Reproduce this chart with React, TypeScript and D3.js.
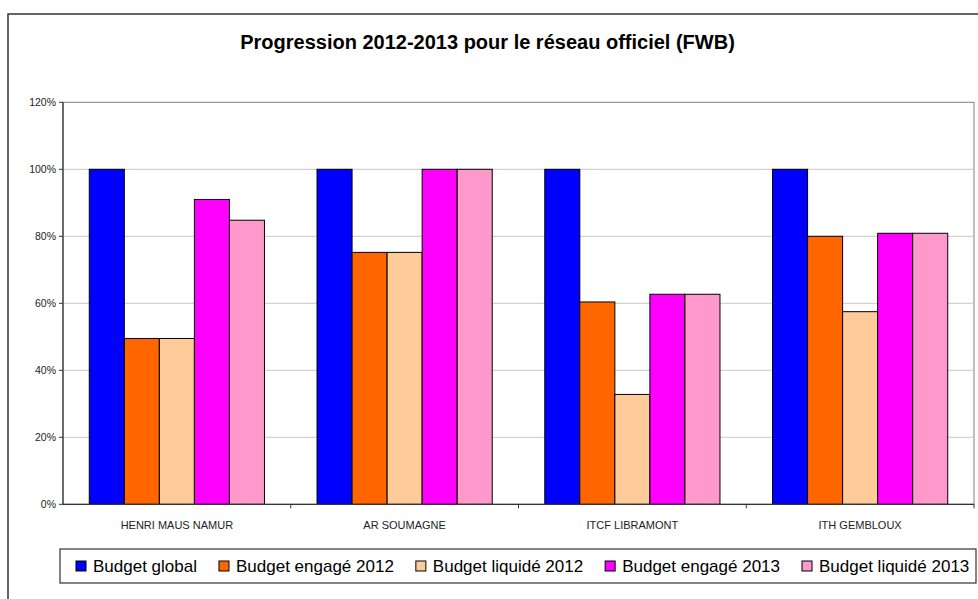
import React from "react";
import * as d3 from "d3";

const categories = ["HENRI MAUS NAMUR", "AR SOUMAGNE", "ITCF LIBRAMONT", "ITH GEMBLOUX"];
const seriesNames = [
  "Budget global",
  "Budget engagé 2012",
  "Budget liquidé 2012",
  "Budget engagé 2013",
  "Budget liquidé 2013",
];
const seriesColors = ["#0000FF", "#FF6600", "#FFCC99", "#FF00FF", "#FF99CC"];
const budgetGlobal = [1.0, 1.0, 1.0, 1.0];
const engage2012 = [0.495, 0.752, 0.604, 0.80];
const liquide2012 = [0.495, 0.752, 0.328, 0.575];
const engage2013 = [0.91, 1.0, 0.627, 0.809];
const liquide2013 = [0.848, 1.0, 0.627, 0.809];
const seriesValues = [budgetGlobal, engage2012, liquide2012, engage2013, liquide2013];
const yTicks = [0, 0.2, 0.4, 0.6, 0.8, 1.0, 1.2];

const W = 978;
const H = 599;
const FONT = "'Liberation Sans', Arial, sans-serif";

function measure(text: string, size: number, weight = "normal"): number {
  if (typeof document === "undefined") return text.length * size * 0.55;
  const c = document.createElement("canvas");
  const ctx = c.getContext("2d");
  if (!ctx) return text.length * size * 0.55;
  ctx.font = `${weight} ${size}px ${FONT}`;
  return ctx.measureText(text).width;
}

export default function App() {
  const left = 63;
  const right = 974;
  const top = 102.3;
  const bottom = 504.3;

  const x = d3.scaleBand<string>().domain(categories).range([left, right]).paddingInner(0).paddingOuter(0);
  const bw = x.bandwidth();
  const barW = bw / 6.5;
  const groupOffset = 0.75 * barW;
  const y = d3.scaleLinear().domain([0, 1.2]).range([bottom, top]);
  const fmt = d3.format(".0%");

  // legend layout
  const legendFont = 17;
  const markerSize = 10;
  const legendItems: { name: string; color: string; mx: number; tx: number }[] = [];
  let cx = 76;
  seriesNames.forEach((name, i) => {
    const tw = measure(name, legendFont);
    legendItems.push({ name, color: seriesColors[i], mx: cx, tx: cx + 17 });
    cx = cx + 17 + tw + 22;
  });

  return (
    <svg width={W} height={H} style={{ position: "absolute", left: 0, top: 0, background: "#fff" }} fontFamily={FONT}>
      <rect x={0} y={0} width={W} height={H} fill="#fff" />
      {/* outer chart border */}
      <rect x={8} y={14} width={W + 20} height={H + 20} fill="none" stroke="#333" strokeWidth={1.5} />

      <text x={487.5} y={49} textAnchor="middle" fontSize={20} fontWeight="bold" fill="#000">
        Progression 2012-2013 pour le réseau officiel (FWB)
      </text>

      {/* plot area */}
      <rect x={left} y={top} width={right - left} height={bottom - top} fill="#fff" stroke="#808080" strokeWidth={1} />
      {yTicks.filter((t) => t > 0 && t < 1.2).map((t) => (
        <line key={"g" + t} x1={left} x2={right} y1={y(t)} y2={y(t)} stroke="#c8c8c8" strokeWidth={1} />
      ))}

      {/* bars */}
      {categories.map((c, ci) => (
        <g key={c}>
          {seriesValues.map((vals, si) => {
            const bx = (x(c) as number) + groupOffset + si * barW;
            return (
              <rect
                key={si}
                x={bx}
                y={y(vals[ci])}
                width={barW}
                height={y(0) - y(vals[ci])}
                fill={seriesColors[si]}
                stroke="#000"
                strokeWidth={1}
              />
            );
          })}
        </g>
      ))}

      {/* axes */}
      <line x1={left} x2={left} y1={top} y2={bottom} stroke="#333" strokeWidth={1.2} />
      <line x1={left} x2={right} y1={bottom} y2={bottom} stroke="#333" strokeWidth={1.2} />
      {yTicks.map((t) => (
        <g key={"t" + t}>
          <line x1={left - 4} x2={left} y1={y(t)} y2={y(t)} stroke="#333" strokeWidth={1} />
          <text x={56} y={y(t) + 3.8} textAnchor="end" fontSize={10.5} fill="#222">
            {fmt(t)}
          </text>
        </g>
      ))}
      {categories.map((c, i) => (
        <g key={"x" + c}>
          {i > 0 && (
            <line x1={x(c) as number} x2={x(c) as number} y1={bottom} y2={bottom + 4} stroke="#333" strokeWidth={1} />
          )}
          <text x={(x(c) as number) + bw / 2} y={529} textAnchor="middle" fontSize={11} fill="#222">
            {c}
          </text>
        </g>
      ))}
      <line x1={right} x2={right} y1={bottom} y2={bottom + 4} stroke="#333" strokeWidth={1} />

      {/* legend */}
      <rect x={60} y={549} width={916} height={34} fill="#fff" stroke="#333" strokeWidth={1.2} />
      {legendItems.map((it) => (
        <g key={it.name}>
          <rect x={it.mx} y={561} width={markerSize} height={markerSize} fill={it.color} stroke="#000" strokeWidth={1} />
          <text x={it.tx} y={572} fontSize={legendFont} fill="#000">
            {it.name}
          </text>
        </g>
      ))}
    </svg>
  );
}
